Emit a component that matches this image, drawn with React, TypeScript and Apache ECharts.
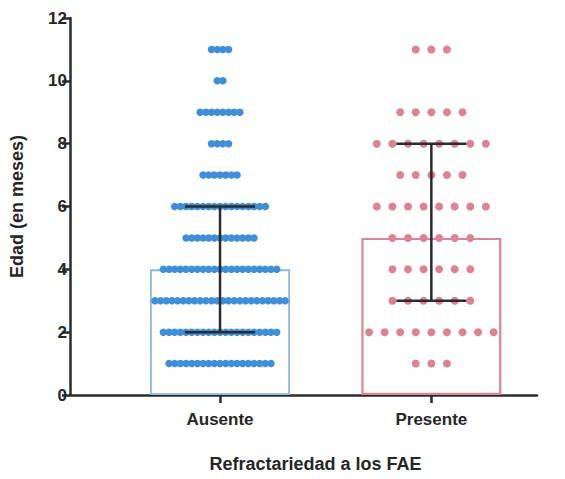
import React, { useEffect, useRef } from "react";
import * as echarts from "echarts";

const categories = ["Ausente", "Presente"];
const ageLevels = [1, 2, 3, 4, 5, 6, 7, 8, 9, 10, 11];
const ausenteCounts = [19, 21, 24, 21, 13, 17, 7, 4, 8, 2, 4];
const presenteCounts = [3, 9, 6, 6, 6, 8, 5, 8, 5, 0, 3];
const medians = [4, 5];
const q1Values = [2, 3];
const q3Values = [6, 8];
const yTicks = [0, 2, 4, 6, 8, 10, 12];

const colors = ["#3f8fd8", "#dc8393"];
const barBorders = ["#8fb6e2", "#d98595"];
const dotSpacing = [0.0268, 0.0737];

function swarm(counts: number[], groupIndex: number) {
  const pts: number[][] = [];
  const center = groupIndex + 1;
  counts.forEach((n, k) => {
    for (let i = 0; i < n; i++) {
      pts.push([center + (i - (n - 1) / 2) * dotSpacing[groupIndex], ageLevels[k]]);
    }
  });
  return pts;
}

export default function App() {
  const ref = useRef<HTMLDivElement>(null);
  useEffect(() => {
    if (!ref.current) return;
    const chart = echarts.init(ref.current, null, { renderer: "svg" });
    const font = "'Liberation Sans', Arial, sans-serif";
    chart.setOption({
      animation: false,
      backgroundColor: "#ffffff",
      grid: { left: 66, right: 28, top: 18, bottom: 84, containLabel: false },
      xAxis: {
        type: "value",
        min: 0.29,
        max: 2.5,
        splitLine: { show: false },
        axisLine: { show: true, onZero: false, lineStyle: { color: "#2b2b2b", width: 2.5 } },
        axisTick: { show: true, customValues: [1, 2], length: 8, lineStyle: { color: "#2b2b2b", width: 2.5 } },
        axisLabel: {
          show: true,
          customValues: [1, 2],
          formatter: (v: number) => categories[Math.round(v) - 1] ?? "",
          color: "#262626",
          fontFamily: font,
          fontWeight: "bold",
          fontSize: 17,
          margin: 16,
        },
        name: "Refractariedad a los FAE",
        nameLocation: "middle",
        nameGap: 60,
        nameTextStyle: {
          color: "#262626",
          fontFamily: font,
          fontWeight: "bold",
          fontSize: 18,
          padding: [0, 0, 0, 24],
        },
      },
      yAxis: {
        type: "value",
        min: 0,
        max: 12,
        interval: 2,
        splitLine: { show: false },
        axisLine: { show: true, lineStyle: { color: "#2b2b2b", width: 2.5 } },
        axisTick: { show: true, length: 8, lineStyle: { color: "#2b2b2b", width: 2.5 } },
        axisLabel: {
          color: "#262626",
          fontFamily: font,
          fontWeight: "bold",
          fontSize: 17,
          margin: 3,
          formatter: (v: number) => (yTicks.includes(v) ? String(v) : ""),
        },
        name: "Edad (en meses)",
        nameLocation: "middle",
        nameGap: 44,
        nameTextStyle: {
          color: "#262626",
          fontFamily: font,
          fontWeight: "bold",
          fontSize: 18,
        },
      },
      series: [
        {
          type: "bar",
          barWidth: 140,
          z: 1,
          data: medians.map((m, i) => ({
            value: [i + 1, m],
            itemStyle: { color: "rgba(255,255,255,0)", borderColor: barBorders[i], borderWidth: i === 0 ? 1.8 : 2.2 },
          })),
        },
        {
          type: "scatter",
          z: 2,
          symbol: "circle",
          symbolSize: 7.5,
          itemStyle: { color: colors[0], opacity: 1 },
          data: swarm(ausenteCounts, 0),
        },
        {
          type: "scatter",
          z: 2,
          symbol: "circle",
          symbolSize: 8,
          itemStyle: { color: colors[1], opacity: 1 },
          data: swarm(presenteCounts, 1),
        },
        {
          type: "custom",
          z: 3,
          data: q1Values.map((q, i) => [i + 1, q, q3Values[i]]),
          renderItem: (params: any, api: any) => {
            const x = api.value(0);
            const lo = api.coord([x, api.value(1)]);
            const hi = api.coord([x, api.value(2)]);
            const half = 35;
            const style = { stroke: "#2b2b2b", lineWidth: 2.5 };
            return {
              type: "group",
              children: [
                { type: "line", shape: { x1: lo[0], y1: lo[1], x2: hi[0], y2: hi[1] }, style },
                { type: "line", shape: { x1: lo[0] - half, y1: lo[1], x2: lo[0] + half, y2: lo[1] }, style },
                { type: "line", shape: { x1: hi[0] - half, y1: hi[1], x2: hi[0] + half, y2: hi[1] }, style },
              ],
            };
          },
        },
      ],
    });
    return () => chart.dispose();
  }, []);
  return (
    <div
      ref={ref}
      style={{ position: "fixed", left: 0, top: 0, width: 565, height: 479, background: "#fff" }}
    />
  );
}
